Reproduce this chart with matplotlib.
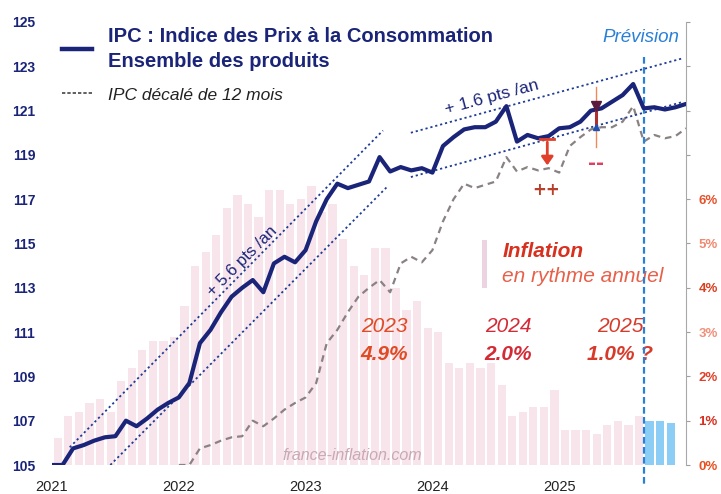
import numpy as np
import matplotlib
matplotlib.use("Agg")
import matplotlib.pyplot as plt
from matplotlib.lines import Line2D

plt.rcParams['font.family'] = ['Liberation Sans', 'DejaVu Sans']

# ---------------------------------------------------------------------------
# Data
# ---------------------------------------------------------------------------

START_YEAR = 2021

# IPC monthly index, Jan 2021 .. Jan 2026 (last months = forecast)
ipc = [105.0, 105.0, 105.75, 105.9, 106.1, 106.25, 106.3, 107.0, 106.75, 107.1, 107.5, 107.8,
       108.05, 108.7, 110.5, 111.1, 111.9, 112.6, 113.0, 113.35, 112.8, 114.1, 114.4, 114.15,
       114.7, 116.0, 117.0, 117.7, 117.5, 117.65, 117.8, 118.9, 118.25, 118.45, 118.3, 118.4,
       118.2, 119.4, 119.8, 120.15, 120.25, 120.25, 120.5, 121.2, 119.6, 119.9, 119.75, 119.85,
       120.2, 120.25, 120.5, 121.0, 121.1, 121.4, 121.7, 122.2, 121.1, 121.15, 121.05, 121.15,
       121.3]

# annual inflation (%), Jan 2021 .. Sep 2025, then forecast Oct .. Dec 2025
inflation = [0.6, 0.6, 1.1, 1.2, 1.4, 1.5, 1.2, 1.9, 2.2, 2.6, 2.8, 2.8,
             2.9, 3.6, 4.5, 4.8, 5.2, 5.8, 6.1, 5.9, 5.6, 6.2, 6.2, 5.9,
             6.0, 6.3, 5.7, 5.9, 5.1, 4.5, 4.3, 4.9, 4.9, 4.0, 3.5, 3.7,
             3.1, 3.0, 2.3, 2.2, 2.3, 2.2, 2.3, 1.8, 1.1, 1.2, 1.3, 1.3,
             1.7, 0.8, 0.8, 0.8, 0.7, 0.9, 1.0, 0.9, 1.1]
inflation_forecast = [1.0, 1.0, 0.95]

shift_months = 12
forecast_start = 2025.67

# trend channels: (x0, y0, x1, y1)
trend_fast = [(2021.14, 105.8, 2023.61, 120.1), (2021.46, 105.0, 2023.65, 117.6)]
trend_slow = [(2023.83, 120.0, 2025.98, 123.37), (2023.83, 118.0, 2025.98, 121.4)]

year_labels = ["2023", "2024", "2025"]
year_rates = ["4.9%", "2.0%", "1.0% ?"]
year_label_x = [2023.62, 2024.60, 2025.48]

yticks_left = list(range(105, 126, 2))
yticks_right = list(range(0, 11))

NAVY = "#1a2478"
TREND = "#1e3c96"
GREY = "#8a8282"
PINK = "#f4cfdb"
SKY = "#8ccdf5"
RED = "#e0402a"
FORECAST = "#2a80d8"

# ---------------------------------------------------------------------------
# Figure
# ---------------------------------------------------------------------------

fig = plt.figure(figsize=(7.21, 4.94), dpi=100, facecolor="white")
ax = fig.add_axes([0.0721, 0.0587, 0.8794, 0.8968])
ax2 = ax.twinx()
ax.set_zorder(ax2.get_zorder() + 1)
ax.patch.set_visible(False)

months = np.arange(len(ipc))
x_ipc = START_YEAR + months / 12

# inflation bars (right axis)
n_inf = len(inflation)
x_bar = START_YEAR + (np.arange(n_inf) - 0.45) / 12
ax2.bar(x_bar, inflation, width=0.065, color=PINK, alpha=0.55, linewidth=0)
x_fc = START_YEAR + (np.arange(n_inf, n_inf + len(inflation_forecast)) - 0.45) / 12
ax2.bar(x_fc, inflation_forecast, width=0.065, color=SKY, linewidth=0)
ax2.set_ylim(0, 10)

# legend swatch for bars
ax2.bar([2024.41], [1.08], bottom=[4.0], width=0.045, color="#ecd3e2", linewidth=0)

# shifted IPC
x_shift = x_ipc[shift_months:]
ax.plot(x_shift, ipc[:len(ipc) - shift_months], color=GREY, lw=1.6,
        dashes=(3, 2.2), zorder=3)

# trend channels
for x0, y0, x1, y1 in trend_fast + trend_slow:
    ax.plot([x0, x1], [y0, y1], color=TREND, lw=1.3, dashes=(1.2, 1.6), zorder=3)

# main IPC line
ax.plot(x_ipc, ipc, color=NAVY, lw=3.0, solid_joinstyle="round",
        solid_capstyle="round", zorder=5)

# forecast marker
ax.plot([forecast_start, forecast_start], [123.4, 104.0], color=FORECAST, lw=1.6,
        dashes=(3, 1.5), zorder=4, clip_on=False)
ax.text(forecast_start - 0.03, 124.3, "Prévision", color=FORECAST, fontsize=13.5,
        style="italic", ha="center", va="center")

# gap arrows
ax.annotate("", xy=(2024.906, 118.4), xytext=(2024.906, 119.7),
            arrowprops=dict(arrowstyle="-|>,head_width=0.35,head_length=0.5",
                            color=RED, lw=2), zorder=6)
ax.plot([2024.85, 2024.96], [119.7, 119.7], color=RED, lw=2, zorder=6)
ax.text(2024.90, 117.4, "++", color="#b8402a", fontsize=12, fontweight="bold",
        family="DejaVu Sans", ha="center", va="center")

ax.plot([2025.291, 2025.291], [122.05, 119.35], color="#f08a5a", lw=1.0, zorder=6)
ax.plot([2025.291, 2025.291], [121.2, 120.25], color="#b03030", lw=2.2, zorder=6)
ax.plot([2025.291], [121.2], marker="v", color="#5a1a40", ms=7, zorder=7)
ax.plot([2025.291], [120.25], marker="^", color="#2050b0", ms=5, zorder=7)
ax.text(2025.29, 118.6, "--", color="#e04060", fontsize=14, fontweight="bold",
        family="DejaVu Sans", ha="center", va="center")

# slopes
ax.text(2022.50, 114.2, "+ 5.6 pts /an", color=NAVY, fontsize=12, rotation=45,
        ha="center", va="center", rotation_mode="anchor")
ax.text(2024.47, 121.62, "+ 1.6 pts /an", color=NAVY, fontsize=12.5, rotation=15,
        ha="center", va="center", rotation_mode="anchor")

# inflation legend text
ax.text(2024.55, 114.62, "Inflation", color="#d8301e", fontsize=15,
        fontweight="bold", style="italic", ha="left", va="center")
ax.text(2024.55, 113.5, "en rythme annuel", color="#e8604a", fontsize=15,
        style="italic", ha="left", va="center")

# yearly averages
year_colors = ["#e04a24", "#d42a36", "#d83a2a"]
for xl, lab, rate, c in zip(year_label_x, year_labels, year_rates, year_colors):
    ax.text(xl, 111.25, lab, color=c, fontsize=15, style="italic",
            ha="center", va="center")
    ax.text(xl, 110.0, rate, color=c, fontsize=15, style="italic",
            fontweight="bold", ha="center", va="center")

ax.text(2023.37, 105.45, "france-inflation.com", color="#c9a9b3", fontsize=11.5,
        style="italic", ha="center", va="center")

# legend
h_ipc = Line2D([], [], color=NAVY, lw=3.2)
h_shift = Line2D([], [], color="#444444", lw=1.2, dashes=(2, 1.2))
leg = ax.legend([h_ipc, h_shift],
                ["IPC : Indice des Prix à la Consommation\nEnsemble des produits",
                 "IPC décalé de 12 mois"],
                loc="upper left", bbox_to_anchor=(0.0158, 0.988), frameon=False,
                borderpad=0, borderaxespad=0,
                handlelength=1.5, handletextpad=0.8, labelspacing=0.75,
                fontsize=14.5)
t1, t2 = leg.get_texts()
t1.set_color(NAVY)
t1.set_fontweight("bold")
t1.set_linespacing(1.35)
t2.set_fontsize(12.5)
t2.set_style("italic")
t2.set_color("#222222")

# axes styling
ax.set_xlim(START_YEAR, START_YEAR + 5)
ax.set_ylim(105, 125)
ax.set_yticks(yticks_left)
ax.set_yticklabels([str(v) for v in yticks_left], fontweight="bold", color=NAVY,
                   fontsize=10)
ax.set_xticks(range(2021, 2026))
ax.set_xticklabels([str(v) for v in range(2021, 2026)], fontsize=10.5, color="#222222")
ax.tick_params(axis="y", length=0, pad=12)
ax.tick_params(axis="x", length=0, pad=11)
for s in ax.spines.values():
    s.set_visible(False)

right_colors = ["#e85020", "#d83020", "#e04028", "#f0907a", "#d84020", "#f08870", "#e8502a"]
ax2.set_yticks(yticks_right)
ax2.set_yticklabels([f"{v}%" if v <= 6 else "" for v in yticks_right],
                    fontweight="bold", fontsize=9.5)
for lab, c in zip(ax2.get_yticklabels(), right_colors):
    lab.set_color(c)
ax2.tick_params(axis="y", length=3, color="#a0a0a0", pad=6)
for name, s in ax2.spines.items():
    s.set_visible(name == "right")
ax2.spines["right"].set_color("#a8a8a8")

fig.savefig("out.png", dpi=100, facecolor="white")
